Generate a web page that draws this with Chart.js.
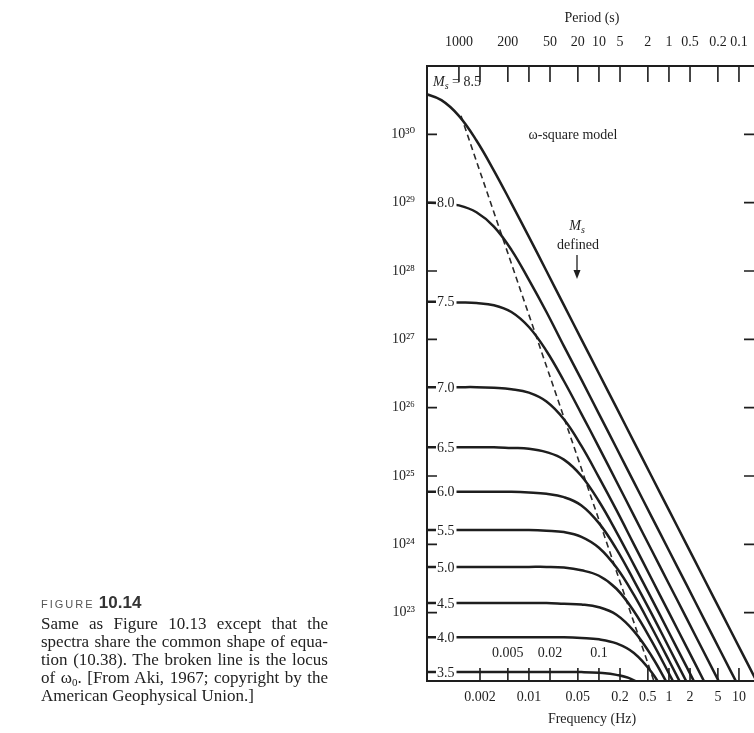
<!DOCTYPE html>
<html>
<head>
<meta charset="utf-8">
<title>Figure 10.14</title>
<script src="https://cdn.jsdelivr.net/npm/chart.js@4.4.1/dist/chart.umd.min.js"></script>
<style>
  html, body { margin: 0; padding: 0; background: #fff; }
  body { width: 754px; height: 733px; overflow: hidden; position: relative; }
  #graphs { position: absolute; left: 0; top: 0; }
  #caption { position: absolute; left: 41px; top: 592px; width: 287px; color: #222;
    font-family: 'Liberation Serif', 'DejaVu Serif', serif; font-size: 17px; line-height: 18px; }
  #caption .head { line-height: 21px; white-space: nowrap; }
  #caption .tag { font-family: 'Liberation Sans', sans-serif; font-size: 11px; letter-spacing: 2px; color: #555; }
  #caption .num { font-family: 'Liberation Sans', sans-serif; font-size: 17px; font-weight: bold; color: #333; }
  #caption .ln { text-align: justify; text-align-last: justify; }
  #caption sub { font-size: 11px; line-height: 0; vertical-align: -3px; }
</style>
</head>
<body>
<canvas id="graphs" width="780" height="733"></canvas>
<div id="caption">
  <div class="head"><span class="tag">FIGURE</span> <span class="num">10.14</span></div>
  <div class="ln">Same as Figure 10.13 except that the</div>
  <div class="ln">spectra share the common shape of equa-</div>
  <div class="ln">tion (10.38). The broken line is the locus</div>
  <div class="ln">of ω<sub>0</sub>. [From Aki, 1967; copyright by the</div>
  <div>American Geophysical Union.]</div>
</div>
<script>
const INK = '#1e1e1e';
const SERIF = "'Liberation Serif', 'DejaVu Serif', serif";

// frequency (Hz) where each curve was read, quarter-decade steps
const FREQ = [0.000316, 0.000562, 0.001, 0.00178, 0.00316, 0.00562, 0.01, 0.0178, 0.0316, 0.0562,
              0.1, 0.178, 0.316, 0.562, 1, 1.78, 3.16, 5.62, 10, 17.8];

// log10 of moment (dyne-cm), null once it has left the frame
const M85 = [30.60, 30.50, 30.27, 29.91, 29.47, 28.99, 28.50, 28.00, 27.50, 27.00,
             26.50, 26.00, 25.50, 25.00, 24.50, 24.00, 23.50, 23.00, 22.50, 22.00];
const M80 = [29.00, 28.99, 28.96, 28.86, 28.65, 28.31, 27.87, 27.40, 26.90, 26.41,
             25.91, 25.41, 24.91, 24.41, 23.91, 23.41, 22.91, 22.41, 21.91, null];
const M75 = [27.55, 27.55, 27.54, 27.53, 27.50, 27.40, 27.18, 26.83, 26.39, 25.91,
             25.42, 24.92, 24.42, 23.92, 23.42, 22.92, 22.42, 21.92, null, null];
const M70 = [26.30, 26.30, 26.30, 26.30, 26.29, 26.27, 26.22, 26.09, 25.83, 25.44,
             24.98, 24.50, 24.00, 23.50, 23.00, 22.50, 22.00, 21.50, null, null];
const M65 = [25.42, 25.42, 25.42, 25.42, 25.42, 25.41, 25.40, 25.35, 25.24, 25.00,
             24.63, 24.18, 23.70, 23.21, 22.71, 22.21, 21.71, null, null, null];
const M60 = [24.77, 24.77, 24.77, 24.77, 24.77, 24.77, 24.76, 24.74, 24.69, 24.57,
             24.31, 23.93, 23.47, 22.99, 22.49, 21.99, null, null, null, null];
const M55 = [24.21, 24.21, 24.21, 24.21, 24.21, 24.21, 24.21, 24.20, 24.18, 24.11,
             23.95, 23.66, 23.26, 22.79, 22.30, 21.80, null, null, null, null];
const M50 = [23.67, 23.67, 23.67, 23.67, 23.67, 23.67, 23.67, 23.67, 23.66, 23.62,
             23.54, 23.35, 23.02, 22.59, 22.11, 21.62, null, null, null, null];
const M45 = [23.14, 23.14, 23.14, 23.14, 23.14, 23.14, 23.14, 23.14, 23.13, 23.12,
             23.08, 22.97, 22.73, 22.37, 21.92, null, null, null, null, null];
const M40 = [22.64, 22.64, 22.64, 22.64, 22.64, 22.64, 22.64, 22.64, 22.64, 22.63,
             22.61, 22.55, 22.41, 22.13, 21.73, null, null, null, null, null];
const M35 = [22.13, 22.13, 22.13, 22.13, 22.13, 22.13, 22.13, 22.13, 22.13, 22.13,
             22.12, 22.09, 22.01, 21.82, null, null, null, null, null, null];

const CURVES = [M85, M80, M75, M70, M65, M60, M55, M50, M45, M40, M35];
const MAGS = ['8.5', '8.0', '7.5', '7.0', '6.5', '6.0', '5.5', '5.0', '4.5', '4.0', '3.5'];

// broken line (locus of the corner frequency)
const LOCUS_FREQ = [0.00107, 0.61];
const LOCUS_LOGM = [30.27, 22.0];

const FREQ_TICKS = [0.002, 0.005, 0.01, 0.02, 0.05, 0.1, 0.2, 0.5, 1, 2, 5, 10];
const FREQ_LABELS = [0.002, 0.01, 0.05, 0.2, 0.5, 1, 2, 5, 10];
const FREQ_LABELS_INSIDE = [0.005, 0.02, 0.1];
const PERIOD_TICKS = [1000, 500, 200, 100, 50, 20, 10, 5, 2, 1, 0.5, 0.2, 0.1];
const PERIOD_LABELS = [1000, 200, 50, 20, 10, 5, 2, 1, 0.5, 0.2, 0.1];
const MOMENT_EXP = [23, 24, 25, 26, 27, 28, 29, 30];

const F_MIN = 0.00035, F_MAX = 18.1;
const M_MIN = 1e22, M_MAX = 1e31;

const SUP = { '0': '⁰', '1': '¹', '2': '²', '3': '³', '4': '⁴', '5': '⁵', '6': '⁶', '7': '⁷', '8': '⁸', '9': '⁹' };
function pow10Label(e) {
  return '10' + String(e).split('').map(c => SUP[c]).join('');
}

let datasets = CURVES.map((logm, i) => ({
  label: 'Ms = ' + MAGS[i],
  data: FREQ.map((f, j) => ({ x: f, y: logm[j] === null ? null : Math.pow(10, logm[j]) })),
  borderColor: INK,
  borderWidth: 2.5,
  pointRadius: 0,
  fill: false,
  tension: 0.4
}));
datasets.push({
  label: 'locus',
  data: LOCUS_FREQ.map((f, j) => ({ x: f, y: Math.pow(10, LOCUS_LOGM[j]) })),
  borderColor: '#2a2a2a',
  borderWidth: 1.6,
  borderDash: [6, 4],
  pointRadius: 0,
  fill: false
});

function frame(extra) {
  return Object.assign({
    type: 'logarithmic',
    grid: { display: true, color: 'transparent', drawOnChartArea: false, drawTicks: false },
    border: { display: true, color: INK, width: 2 }
  }, extra);
}
const tickFont = { family: SERIF, size: 14 };

// short tick marks pointing into the plot, plus the text inside the frame
const decorations = {
  id: 'decorations',
  afterDatasetsDraw(chart) {
    const { ctx, chartArea: a, scales } = chart;
    ctx.save();
    ctx.strokeStyle = INK;
    ctx.fillStyle = INK;
    ctx.lineWidth = 1.6;
    ctx.beginPath();
    scales.x.ticks.forEach(t => {
      const p = scales.x.getPixelForValue(t.value);
      ctx.moveTo(p, a.bottom); ctx.lineTo(p, a.bottom - 13);
    });
    scales.xTop.ticks.forEach(t => {
      const p = scales.xTop.getPixelForValue(t.value);
      ctx.moveTo(p, a.top); ctx.lineTo(p, a.top + 16);
    });
    scales.y.ticks.forEach(t => {
      const p = scales.y.getPixelForValue(t.value);
      ctx.moveTo(a.left, p); ctx.lineTo(a.left + 10, p);
    });
    scales.yRight.ticks.forEach(t => {
      const p = scales.yRight.getPixelForValue(t.value);
      ctx.moveTo(a.right, p); ctx.lineTo(a.right - 13, p);
    });
    ctx.stroke();

    ctx.font = '14px ' + SERIF;
    ctx.textBaseline = 'middle';
    ctx.textAlign = 'center';
    FREQ_LABELS_INSIDE.forEach(v => {
      ctx.fillText(String(v), scales.x.getPixelForValue(v), a.bottom - 28);
    });

    // magnitude labels sitting on the flat part of each curve
    ctx.textAlign = 'left';
    for (let i = 1; i < MAGS.length; i++) {
      const y = scales.y.getPixelForValue(Math.pow(10, CURVES[i][0]));
      const w = ctx.measureText(MAGS[i]).width;
      ctx.fillStyle = '#fff';
      ctx.fillRect(a.left + 9, y - 7, w + 3, 14);
      ctx.fillStyle = INK;
      ctx.fillText(MAGS[i], a.left + 10, y + 1);
    }

    // Ms = 8.5
    let x = a.left + 6, y = a.top + 16;
    ctx.font = 'italic 14px ' + SERIF;
    ctx.fillText('M', x, y);
    x += ctx.measureText('M').width;
    ctx.font = 'italic 10px ' + SERIF;
    ctx.fillText('s', x, y + 4);
    x += ctx.measureText('s').width;
    ctx.font = '14px ' + SERIF;
    ctx.fillText(' = 8.5', x, y);

    ctx.textAlign = 'center';
    ctx.fillText('ω-square model', a.left + 146, a.top + 69);

    // "Ms defined" with arrow
    const cx = a.left + 150;
    ctx.font = 'italic 14px ' + SERIF;
    ctx.fillText('M', cx - 2, a.top + 160);
    ctx.font = 'italic 10px ' + SERIF;
    ctx.fillText('s', cx + 6, a.top + 164);
    ctx.font = '14px ' + SERIF;
    ctx.fillText('defined', cx + 1, a.top + 179);
    ctx.lineWidth = 1.3;
    ctx.beginPath();
    ctx.moveTo(cx, a.top + 189); ctx.lineTo(cx, a.top + 206);
    ctx.stroke();
    ctx.beginPath();
    ctx.moveTo(cx - 3.5, a.top + 204); ctx.lineTo(cx + 3.5, a.top + 204); ctx.lineTo(cx, a.top + 213);
    ctx.closePath();
    ctx.fill();
    ctx.restore();
  }
};

let config = {
  type: 'line',
  data: { datasets: datasets },
  options: {
    responsive: false,
    animation: false,
    events: [],
    layout: { padding: 0 },
    plugins: { legend: { display: false }, tooltip: { enabled: false } },
    scales: {
      x: frame({
        position: 'bottom', min: F_MIN, max: F_MAX,
        afterBuildTicks: s => { s.ticks = FREQ_TICKS.map(v => ({ value: v })); },
        afterFit: s => { s.height = 52; },
        ticks: {
          color: INK, font: tickFont, padding: 8, autoSkip: false, maxRotation: 0,
          callback: v => FREQ_LABELS.includes(v) ? String(v) : ''
        },
        title: { display: true, text: 'Frequency (Hz)', color: INK,
                 font: { family: SERIF, size: 14 }, padding: { top: 0, bottom: 5 } }
      }),
      xTop: frame({
        position: 'top', min: F_MIN, max: F_MAX,
        afterBuildTicks: s => { s.ticks = PERIOD_TICKS.map(p => ({ value: 1 / p })); },
        afterFit: s => { s.height = 66; },
        ticks: {
          color: INK, font: tickFont, padding: 15, autoSkip: false, maxRotation: 0,
          callback: (v, i) => PERIOD_LABELS.includes(PERIOD_TICKS[i]) ? String(PERIOD_TICKS[i]) : ''
        },
        title: { display: true, text: 'Period (s)', color: INK,
                 font: { family: SERIF, size: 14 }, padding: { top: 10, bottom: 0 } }
      }),
      y: frame({
        position: 'left', min: M_MIN, max: M_MAX,
        afterBuildTicks: s => { s.ticks = MOMENT_EXP.map(e => ({ value: Math.pow(10, e) })); },
        afterFit: s => { s.width = 427; },
        ticks: {
          color: INK, font: tickFont, padding: 12, autoSkip: false,
          callback: (v, i) => pow10Label(MOMENT_EXP[i])
        }
      }),
      yRight: frame({
        position: 'right', min: M_MIN, max: M_MAX,
        afterBuildTicks: s => { s.ticks = MOMENT_EXP.map(e => ({ value: Math.pow(10, e) })); },
        afterFit: s => { s.width = 23; },
        ticks: { display: false }
      })
    }
  },
  plugins: [decorations]
};

window.onload = function() {
  let ctx = document.querySelector('#graphs').getContext('2d');
  window.momentChart = new Chart(ctx, config);
};
</script>
</body>
</html>
